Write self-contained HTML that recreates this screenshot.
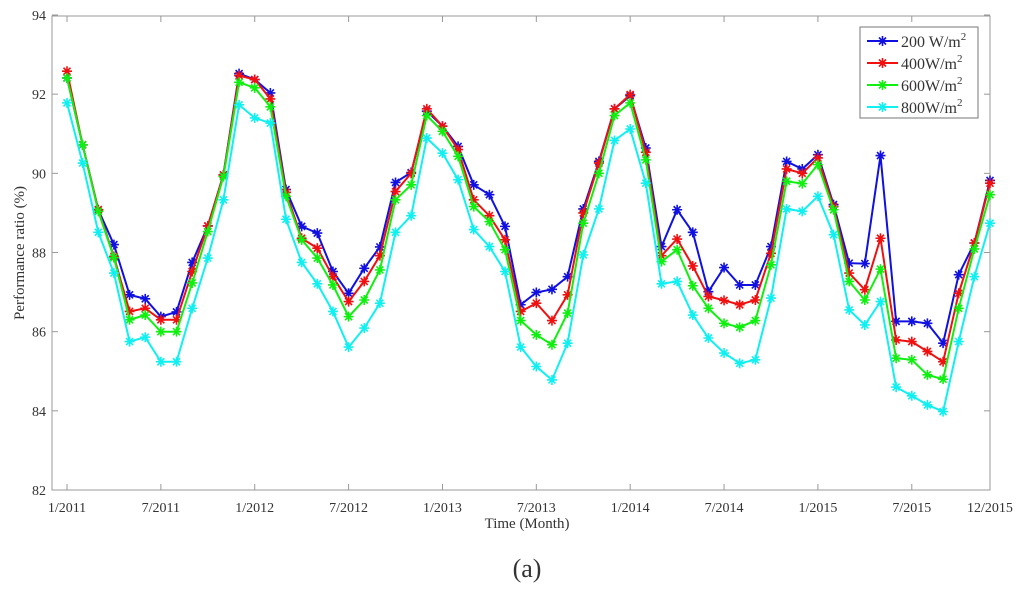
<!DOCTYPE html>
<html><head><meta charset="utf-8"><style>
body{margin:0;background:#fff;}
svg text{font-family:"Liberation Serif",serif;fill:#333;}
</style></head><body>
<svg id="chart" width="1024" height="593" viewBox="0 0 1024 593" xmlns="http://www.w3.org/2000/svg">
<rect x="52" y="16" width="938" height="474" fill="#fff" stroke="#999" stroke-width="1"/>
<g id="axes"></g>
<g id="series"></g>
<text x="0" y="0" transform="translate(24,253) rotate(-90)" text-anchor="middle" font-size="15">Performance ratio (%)</text>
<text x="527" y="528" text-anchor="middle" font-size="15">Time (Month)</text>
<text x="527" y="577" text-anchor="middle" font-size="26">(a)</text>
<g id="legend">
<rect x="860" y="27" width="118" height="91" fill="#fff" stroke="#777" stroke-width="1"/>
</g>
</svg>
<script>
const months = ["1/2011","7/2011","1/2012","7/2012","1/2013","7/2013","1/2014","7/2014","1/2015","7/2015","12/2015"];
const tickIdx = [0,6,12,18,24,30,36,42,48,54,59];
const yTicks = [82,84,86,88,90,92,94];
const seriesNames = ["200 W/m","400W/m","600W/m","800W/m"];
const seriesColors = ["#1010e0","#f01010","#10f010","#10f0f0"];
const s200 = [92.41,90.72,89.08,88.2,86.93,86.83,86.38,86.5,87.75,88.67,89.96,92.52,92.37,92.03,89.59,88.66,88.49,87.52,86.97,87.6,88.14,89.77,90.02,91.57,91.19,90.68,89.71,89.46,88.66,86.68,86.99,87.07,87.39,89.1,90.3,91.63,91.96,90.64,88.15,89.08,88.51,87.01,87.62,87.18,87.18,88.15,90.3,90.11,90.47,89.21,87.73,87.72,90.45,86.26,86.26,86.21,85.71,87.44,88.24,89.82];
const s400 = [92.58,90.72,89.08,87.9,86.51,86.59,86.3,86.3,87.52,88.67,89.96,92.47,92.37,91.88,89.52,88.36,88.11,87.39,86.76,87.27,87.92,89.54,90.0,91.63,91.19,90.6,89.33,88.93,88.32,86.51,86.72,86.28,86.93,89.0,90.26,91.63,91.99,90.53,87.92,88.34,87.66,86.89,86.79,86.68,86.8,87.98,90.11,90.0,90.39,89.16,87.48,87.06,88.36,85.79,85.75,85.5,85.24,86.97,88.24,89.75];
const s600 = [92.41,90.72,89.04,87.87,86.3,86.42,86.0,86.0,87.23,88.53,89.92,92.3,92.16,91.68,89.42,88.32,87.86,87.18,86.38,86.8,87.56,89.33,89.71,91.46,91.06,90.43,89.16,88.78,88.07,86.28,85.92,85.67,86.47,88.74,90.0,91.46,91.78,90.34,87.77,88.07,87.16,86.59,86.21,86.11,86.28,87.69,89.8,89.74,90.22,89.08,87.27,86.8,87.58,85.33,85.29,84.91,84.8,86.59,88.09,89.46];
const s800 = [91.78,90.26,88.51,87.48,85.75,85.86,85.24,85.24,86.59,87.86,89.33,91.73,91.4,91.27,88.84,87.75,87.21,86.51,85.61,86.09,86.72,88.51,88.93,90.89,90.51,89.84,88.58,88.15,87.52,85.61,85.12,84.78,85.71,87.94,89.1,90.83,91.12,89.75,87.21,87.27,86.42,85.84,85.46,85.2,85.29,86.85,89.1,89.04,89.42,88.45,86.55,86.17,86.76,84.6,84.38,84.15,83.98,85.75,87.39,88.74];
const allSeries = [s200,s400,s600,s800];

const NS="http://www.w3.org/2000/svg";
const X0=67, X1=990, Y0=490, Y1=15;
function xs(i){return X0+(X1-X0)*i/59;}
function ys(v){return Y0-(v-82)*(Y0-Y1)/12;}
function mk(tag,attrs,parent){const e=document.createElementNS(NS,tag);for(const k in attrs)e.setAttribute(k,attrs[k]);parent.appendChild(e);return e;}
const axes=document.getElementById('axes');
tickIdx.forEach((ti,k)=>{
  const x=xs(ti);
  const t1=mk('line',{x1:x,x2:x,y1:16,y2:22,stroke:'#999'},axes);
  
  
  const t2=mk('line',{x1:x,x2:x,y1:484,y2:490,stroke:'#999'},axes);
  
  
  const lb=mk('text',{x:x,y:512,'text-anchor':'middle','font-size':14},axes);
  
  
  lb.textContent=months[k];
});
yTicks.forEach(v=>{
  const y=ys(v);
  const t1=mk('line',{x1:52,x2:58,y1:y,y2:y,stroke:'#999'},axes);
  
  
  const t2=mk('line',{x1:984,x2:990,y1:y,y2:y,stroke:'#999'},axes);
  
  
  const lb=mk('text',{x:46,y:y+5,'text-anchor':'end','font-size':14},axes);
  
  
  lb.textContent=v;
});
function star(g,x,y,c,r){
  const p=`M${x-r},${y}H${x+r}M${x},${y-r}V${y+r}M${x-r*0.7},${y-r*0.7}L${x+r*0.7},${y+r*0.7}M${x-r*0.7},${y+r*0.7}L${x+r*0.7},${y-r*0.7}`;
  const m=mk('path',{d:p,stroke:c,'stroke-width':1.6,fill:'none'},g);
  
  
}
const sg=document.getElementById('series');
allSeries.forEach((data,si)=>{
  const g=mk('g',{},sg);
  
  
  const pts=data.map((v,i)=>xs(i).toFixed(1)+','+ys(v).toFixed(1)).join(' ');
  const pl=mk('polyline',{points:pts,fill:'none',stroke:seriesColors[si],'stroke-width':2},g);
  
  
  data.forEach((v,i)=>star(g,xs(i),ys(v),seriesColors[si],5));
});
const lg=document.getElementById('legend');
seriesNames.forEach((n,i)=>{
  const y=41+i*22;
  const g=mk('g',{},lg);
  
  
  mk('line',{x1:867,x2:898,y1:y,y2:y,stroke:seriesColors[i],'stroke-width':2},g);
  star(g,882.5,y,seriesColors[i],5);
  const t=mk('text',{x:901,y:y+6,'font-size':16},g);
  t.textContent=n;
  const s=mk('tspan',{dy:-7,'font-size':11},t);
  s.textContent='2';
});
</script>
</body></html>
